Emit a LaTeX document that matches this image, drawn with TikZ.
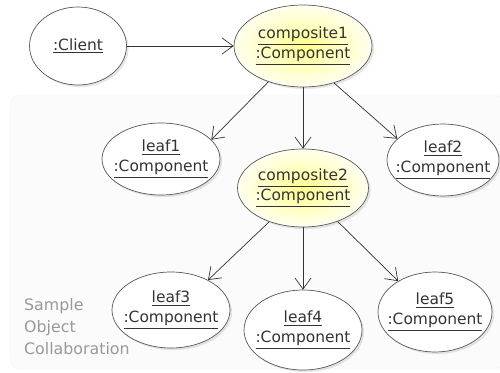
\documentclass[tikz,border=0pt]{standalone}
\usepackage{fontspec}
\setmainfont{DejaVu Sans}
\usetikzlibrary{shapes.geometric,arrows.meta,shadows}

\begin{document}
\begin{tikzpicture}[x=0.02cm,y=-0.02cm,
    obj/.style={ellipse,draw=black!65,thin,fill=white,inner xsep=-5pt,inner ysep=0pt,align=center,
      font=\fontsize{8.8}{11.2}\selectfont,text=black!80,
      drop shadow={shadow xshift=1.2pt,shadow yshift=-1.2pt,opacity=0.2}},
    comp/.style={obj,inner color=yellow!45,outer color=yellow!6},
    msg/.style={draw=black!80,-{Straight Barb[length=2.2mm,width=3.2mm]}}]
    \useasboundingbox (0,0) rectangle (500,372);
    \draw[gray!6,fill=gray!3,rounded corners=6pt] (10,95) rectangle (505,369);
    \node[obj,minimum width=1.94cm,minimum height=1.56cm] (client) at (78,46) {\underline{:Client}};
    \node[comp,minimum width=2.76cm,minimum height=1.64cm] (comp1) at (303,46) {\underline{composite1}\\\underline{:Component}};
    \node[obj,minimum width=2.36cm,minimum height=1.44cm] (leaf1) at (161,159) {\underline{leaf1}\\\underline{:Component}};
    \node[obj,minimum width=2.24cm,minimum height=1.44cm] (leaf2) at (443,160) {\underline{leaf2}\\\underline{:Component}};
    \node[comp,minimum width=2.62cm,minimum height=1.56cm] (comp2) at (303,188) {\underline{composite2}\\\underline{:Component}};
    \node[obj,minimum width=2.36cm,minimum height=1.52cm] (leaf3) at (171,310) {\underline{leaf3}\\\underline{:Component}};
    \node[obj,minimum width=2.36cm,minimum height=1.6cm] (leaf4) at (303,330) {\underline{leaf4}\\\underline{:Component}};
    \node[obj,minimum width=2.28cm,minimum height=1.6cm] (leaf5) at (435,312) {\underline{leaf5}\\\underline{:Component}};
    \draw[msg] (client) -- (comp1);
    \draw[msg] (comp1.226) -- (leaf1.21);
    \draw[msg] (comp1) -- (comp2);
    \draw[msg] (comp1.-50) -- (leaf2.155);
    \draw[msg] (comp2.225) -- (leaf3.39);
    \draw[msg] (comp2) -- (leaf4);
    \draw[msg] (comp2.-44) -- (leaf5.140);
    \node[anchor=west,align=left,text=black!40,font=\fontsize{9}{12.5}\selectfont] (caption) at (18,327) {Sample\\Object\\Collaboration};
\end{tikzpicture}
\end{document}
